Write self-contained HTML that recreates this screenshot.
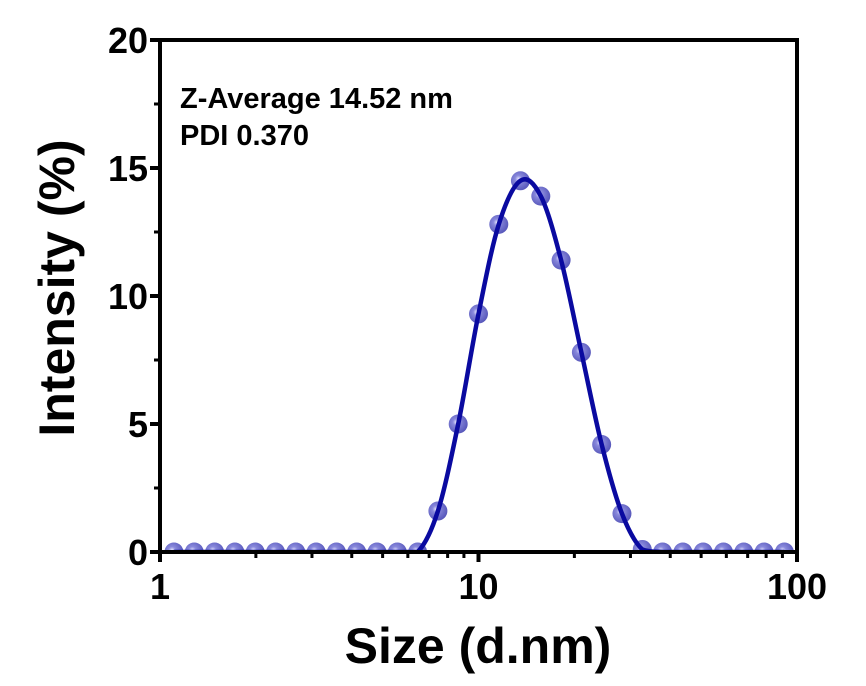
<!DOCTYPE html>
<html><head><meta charset="utf-8"><style>
body{margin:0;background:#fff;}
svg{display:block;font-family:"Liberation Sans",Arial,sans-serif;font-weight:bold;}
</style></head><body>
<svg id="chart" width="866" height="686" viewBox="0 0 866 686">
<defs>
<radialGradient id="ball" cx="0.4" cy="0.4" r="0.6">
<stop offset="0" stop-color="#e8e8ff" stop-opacity="0.95"/>
<stop offset="0.3" stop-color="#7c7cd8" stop-opacity="0.9"/>
<stop offset="1" stop-color="#3c3cb0" stop-opacity="0.85"/>
</radialGradient>
<clipPath id="clip"><rect x="160" y="40" width="638" height="512"/></clipPath>
</defs>
<g id="marks" clip-path="url(#clip)"></g>
<g id="axes"></g>
<text x="180" y="108" font-size="29">Z-Average 14.52 nm</text>
<text x="180" y="145" font-size="29">PDI 0.370</text>
<text x="478" y="663" font-size="50" text-anchor="middle">Size (d.nm)</text>
<text transform="translate(74,288) rotate(-90)" font-size="50" text-anchor="middle">Intensity (%)</text>
</svg>
<script>
const sizes=[1.106,1.281,1.484,1.718,1.990,2.305,2.669,3.091,3.580,4.145,4.801,5.560,6.439,7.456,8.635,10.00,11.58,13.54,15.69,18.17,21.04,24.36,28.21,32.67,37.84,43.82,50.75,58.77,68.06,78.82,91.28];
const intensity=[0,0,0,0,0,0,0,0,0,0,0,0,0,1.6,5.0,9.3,12.8,14.5,13.9,11.4,7.8,4.2,1.5,0.1,0,0,0,0,0,0,0];
const yTicks=[0,5,10,15,20];
const xTicks=[1,10,100];
const NS="http://www.w3.org/2000/svg";
const L=160,R=797,T=40,B=552;
const xs=v=>L+(R-L)*Math.log10(v)/2;
const ys=v=>B-(B-T)*v/20;
function mk(t,a,p){const e=document.createElementNS(NS,t);for(const k in a)e.setAttribute(k,a[k]);p.appendChild(e);return e;}
const marks=document.getElementById('marks'),axes=document.getElementById('axes');
const pts=sizes.map((s,i)=>[xs(s),ys(intensity[i])]);
pts.forEach(p=>{const c=mk('circle',{cx:p[0],cy:p[1],r:9.5,fill:'url(#ball)'},marks);

});
let d='M'+pts[0][0]+','+pts[0][1];
for(let i=0;i<pts.length-1;i++){const p0=pts[Math.max(0,i-1)],p1=pts[i],p2=pts[i+1],p3=pts[Math.min(pts.length-1,i+2)];
let c1y=p1[1]+(p2[1]-p0[1])/6,c2y=p2[1]-(p3[1]-p1[1])/6;
c1y=Math.min(c1y,B);c2y=Math.min(c2y,B);
d+=` C${p1[0]+(p2[0]-p0[0])/6},${c1y} ${p2[0]-(p3[0]-p1[0])/6},${c2y} ${p2[0]},${p2[1]}`;}
const line=mk('path',{d:d,fill:'none',stroke:'#0a0aa0','stroke-width':4.5,'stroke-linejoin':'round'},marks);


const frame=mk('rect',{x:L,y:T,width:R-L,height:B-T,fill:'none',stroke:'#000','stroke-width':4},axes);


yTicks.forEach(v=>{mk('line',{x1:L-10,x2:L,y1:ys(v),y2:ys(v),stroke:'#000','stroke-width':4},axes);
const t=mk('text',{x:L-12,y:ys(v)+13,'font-size':36,'text-anchor':'end'},axes);t.textContent=v;

});
yTicks.slice(0,-1).forEach(v=>mk('line',{x1:L-6,x2:L,y1:ys(v+2.5),y2:ys(v+2.5),stroke:'#000','stroke-width':3},axes));
xTicks.forEach(v=>{mk('line',{x1:xs(v),x2:xs(v),y1:B,y2:B+10,stroke:'#000','stroke-width':4},axes);
const t=mk('text',{x:xs(v),y:B+47,'font-size':36,'text-anchor':'middle'},axes);t.textContent=v;

});
[1,10].forEach(dec=>{for(let m=2;m<10;m++){const x=xs(dec*m);mk('line',{x1:x,x2:x,y1:B,y2:B+6,stroke:'#000','stroke-width':3},axes);}});
</script>
</body></html>
